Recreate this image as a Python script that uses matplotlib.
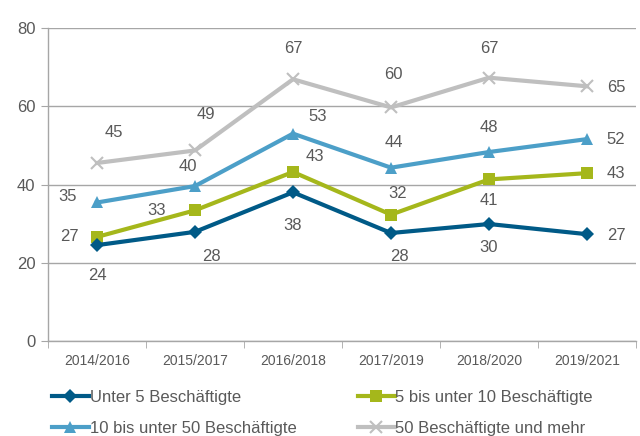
import matplotlib
matplotlib.use("Agg")
import matplotlib.pyplot as plt
import numpy as np

plt.rcParams['font.family'] = ['Liberation Sans', 'DejaVu Sans']

categories = ["2014/2016", "2015/2017", "2016/2018", "2017/2019", "2018/2020", "2019/2021"]
unter5 = [24.5, 27.9, 38.0, 27.6, 29.9, 27.3]
bis10 = [26.6, 33.4, 43.2, 32.3, 41.3, 42.9]
bis50 = [35.4, 39.6, 53.0, 44.3, 48.3, 51.6]
mehr50 = [45.5, 48.7, 66.9, 59.7, 67.3, 65.1]
labels_unter5 = ["24", "28", "38", "28", "30", "27"]
labels_bis10 = ["27", "33", "43", "32", "41", "43"]
labels_bis50 = ["35", "40", "53", "44", "48", "52"]
labels_mehr50 = ["45", "49", "67", "60", "67", "65"]
series_names = ["Unter 5 Beschäftigte", "5 bis unter 10 Beschäftigte",
                "10 bis unter 50 Beschäftigte", "50 Beschäftigte und mehr"]

colors = ["#005A87", "#A5B71B", "#4C9FC8", "#BFBFBF"]
markers = ["D", "s", "^", "x"]
msizes = [7.5, 9, 9, 9]
txt = "#595959"
grid = "#A6A6A6"

fig = plt.figure(figsize=(6.4, 4.36), dpi=100)
ax = fig.add_axes([48/640, 1-341/436, 588/640, 313/436])
x = np.arange(len(categories))

data = [unter5, bis10, bis50, mehr50]
labs = [labels_unter5, labels_bis10, labels_bis50, labels_mehr50]
# label offsets in points (dx, dy)
offs = [
    [(0, -22), (12, -18), (0, -24), (6, -17), (0, -17), (21, -1)],
    [(-20, 0), (-28, 0), (16, 11), (5, 15), (0, -15), (21, 0)],
    [(-21, 4), (-5, 14), (18, 12), (2, 18), (0, 18), (21, 0)],
    [(12, 22), (8, 26), (0, 22), (2, 24), (0, 21), (21, -1)],
]
handles = []
for i, (vals, lab) in enumerate(zip(data, labs)):
    h, = ax.plot(x, vals, color=colors[i], lw=3, marker=markers[i], ms=msizes[i],
                 mew=1.5 if markers[i] == "x" else 0, mec=colors[i], mfc=colors[i],
                 label=series_names[i], zorder=3 + (3 - i))
    handles.append(h)
    for j, v in enumerate(vals):
        ax.annotate(lab[j], (x[j], v), xytext=offs[i][j], textcoords="offset points",
                    ha="center", va="center", fontsize=12, color=txt)

ax.set_xlim(-0.5, len(categories) - 0.5)
ax.set_ylim(0, 80)
ax.set_yticks([0, 20, 40, 60, 80])
ax.yaxis.grid(True, color=grid, lw=1)
ax.set_axisbelow(True)
ax.set_xticks(x)
ax.set_xticklabels(categories, fontsize=10, color=txt)
ax.set_xticks(np.arange(-0.5, len(categories)), minor=True)
ax.tick_params(axis="x", which="major", length=0, pad=9)
ax.tick_params(axis="x", which="minor", length=5, color=grid, direction="out")
ax.tick_params(axis="y", length=5, color=grid, labelsize=12, labelcolor=txt, pad=4)
for sp in ["top", "right"]:
    ax.spines[sp].set_visible(False)
for sp in ["left", "bottom"]:
    ax.spines[sp].set_color(grid)
    ax.spines[sp].set_linewidth(1)

order = [0, 2, 1, 3]
fig.legend(handles=[handles[k] for k in order], labels=[series_names[k] for k in order],
           loc="upper left", bbox_to_anchor=(52/640, 1-390/436), ncol=2, frameon=False,
           fontsize=12, labelcolor=txt, handlelength=2.2, handletextpad=0.05,
           columnspacing=3.7, labelspacing=0.95, borderpad=0, borderaxespad=0)

fig.savefig("out.png", dpi=100)
